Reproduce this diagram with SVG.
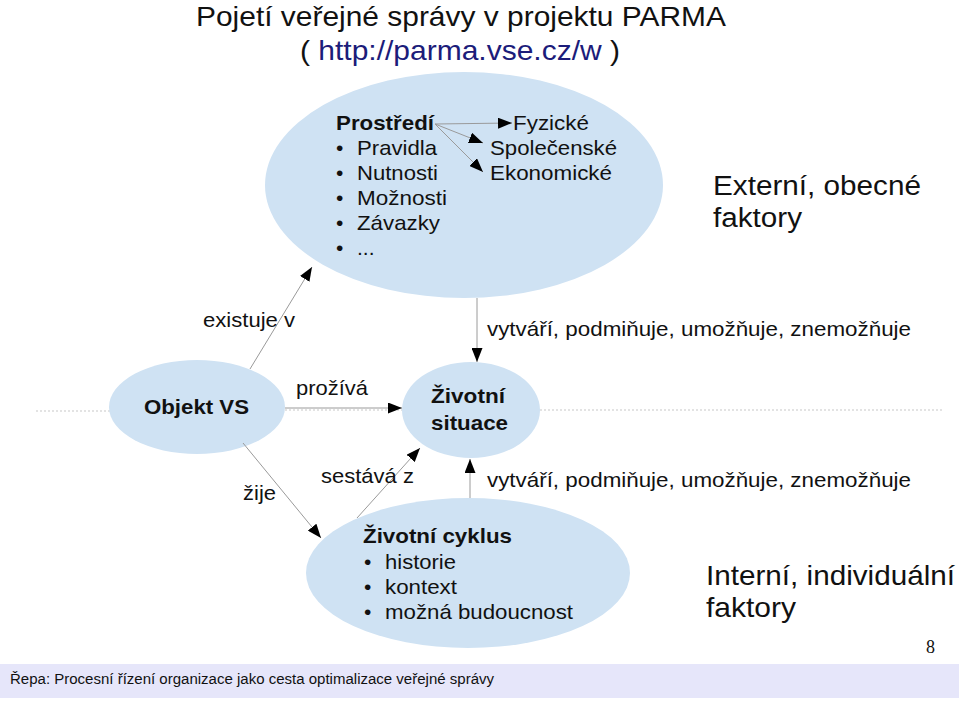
<svg xmlns="http://www.w3.org/2000/svg" width="959" height="702" viewBox="0 0 959 702">
<style>
text{font-family:"Liberation Sans",Arial,sans-serif;fill:#111}
.t{font-size:21px}
.b{font-size:21px;font-weight:bold}
.big{font-size:27px}
.el{fill:#cfe2f3}
.c{stroke:#9a9a9a;stroke-width:1;fill:none}
.d{stroke:#c8c8c8;stroke-width:1.2;stroke-dasharray:2,2;fill:none}
</style>
<defs>
<marker id="ah" markerUnits="userSpaceOnUse" markerWidth="15" markerHeight="11" refX="14" refY="5.5" orient="auto">
<path d="M0,0 L14,5.5 L0,11 z" fill="#000"/>
</marker>
</defs>
<rect width="959" height="702" fill="#fff"/>
<g id="title">
<text x="196" y="26" font-size="28" textLength="530" lengthAdjust="spacingAndGlyphs">Pojetí veřejné správy v projektu PARMA</text>
<text x="300" y="60" font-size="28" textLength="320" lengthAdjust="spacingAndGlyphs">( <tspan style="fill:#1c1c7a">http://parma.vse.cz/w</tspan> )</text>
</g>
<g id="guides">
<line class="d" x1="36" y1="411" x2="110" y2="411"/>
<line class="d" x1="285" y1="410" x2="402" y2="410"/>
<line class="d" x1="540" y1="410" x2="943" y2="410"/>
</g>
<g id="prostredi">
<ellipse class="el" cx="464" cy="185" rx="199" ry="113"/>
<text class="b" x="336" y="130" textLength="98" lengthAdjust="spacingAndGlyphs">Prostředí</text>
<text class="t" x="336" y="155">•</text><text class="t" x="357" y="155" textLength="80" lengthAdjust="spacingAndGlyphs">Pravidla</text>
<text class="t" x="336" y="180">•</text><text class="t" x="357" y="180" textLength="81" lengthAdjust="spacingAndGlyphs">Nutnosti</text>
<text class="t" x="336" y="205">•</text><text class="t" x="357" y="205" textLength="90" lengthAdjust="spacingAndGlyphs">Možnosti</text>
<text class="t" x="336" y="230">•</text><text class="t" x="357" y="230" textLength="83" lengthAdjust="spacingAndGlyphs">Závazky</text>
<text class="t" x="336" y="255">•</text><text class="t" x="357" y="255">...</text>
<text class="t" x="513" y="130" textLength="76" lengthAdjust="spacingAndGlyphs">Fyzické</text>
<text class="t" x="490" y="155" textLength="127" lengthAdjust="spacingAndGlyphs">Společenské</text>
<text class="t" x="490" y="180" textLength="122" lengthAdjust="spacingAndGlyphs">Ekonomické</text>
</g>
<g id="objekt">
<ellipse class="el" cx="197" cy="407" rx="88" ry="47"/>
<text class="b" x="144" y="414" textLength="105" lengthAdjust="spacingAndGlyphs">Objekt VS</text>
</g>
<g id="situace">
<ellipse class="el" cx="471" cy="410" rx="69" ry="48"/>
<text class="b" x="431" y="403" textLength="74" lengthAdjust="spacingAndGlyphs">Životní</text>
<text class="b" x="431" y="430" textLength="77" lengthAdjust="spacingAndGlyphs">situace</text>
</g>
<g id="cyklus">
<ellipse class="el" cx="468" cy="573" rx="162" ry="75"/>
<text class="b" x="363" y="543" textLength="149" lengthAdjust="spacingAndGlyphs">Životní cyklus</text>
<text class="t" x="364" y="569">•</text><text class="t" x="385" y="569" textLength="71" lengthAdjust="spacingAndGlyphs">historie</text>
<text class="t" x="364" y="594">•</text><text class="t" x="385" y="594" textLength="72" lengthAdjust="spacingAndGlyphs">kontext</text>
<text class="t" x="364" y="619">•</text><text class="t" x="385" y="619" textLength="188" lengthAdjust="spacingAndGlyphs">možná budoucnost</text>
</g>
<g id="connectors">
<line class="c" x1="435" y1="124" x2="512" y2="123" marker-end="url(#ah)"/>
<line class="c" x1="435" y1="124" x2="483" y2="143" marker-end="url(#ah)"/>
<line class="c" x1="435" y1="124" x2="483" y2="172" marker-end="url(#ah)"/>
<line class="c" x1="250" y1="369" x2="312" y2="267" marker-end="url(#ah)"/>
<line class="c" x1="285" y1="408" x2="402" y2="408" marker-end="url(#ah)"/>
<line class="c" x1="243" y1="443" x2="321" y2="538" marker-end="url(#ah)"/>
<line class="c" x1="357" y1="518" x2="420" y2="448" marker-end="url(#ah)"/>
<line class="c" x1="477" y1="298" x2="477" y2="362" marker-end="url(#ah)"/>
<line class="c" x1="470" y1="498" x2="470" y2="459" marker-end="url(#ah)"/>
</g>
<g id="labels">
<text class="t" x="203" y="327" textLength="92" lengthAdjust="spacingAndGlyphs">existuje v</text>
<text class="t" x="296" y="395" textLength="72" lengthAdjust="spacingAndGlyphs">prožívá</text>
<text class="t" x="243" y="500" textLength="33" lengthAdjust="spacingAndGlyphs">žije</text>
<text class="t" x="321" y="483" textLength="93" lengthAdjust="spacingAndGlyphs">sestává z</text>
<text class="t" x="487" y="336" textLength="424" lengthAdjust="spacingAndGlyphs">vytváří, podmiňuje, umožňuje, znemožňuje</text>
<text class="t" x="487" y="487" textLength="424" lengthAdjust="spacingAndGlyphs">vytváří, podmiňuje, umožňuje, znemožňuje</text>
<text class="big" x="713" y="195" textLength="208" lengthAdjust="spacingAndGlyphs">Externí, obecné</text>
<text class="big" x="713" y="227" textLength="89" lengthAdjust="spacingAndGlyphs">faktory</text>
<text x="706" y="585" font-size="28" textLength="249" lengthAdjust="spacingAndGlyphs">Interní, individuální</text>
<text x="706" y="617" font-size="28" textLength="90" lengthAdjust="spacingAndGlyphs">faktory</text>
</g>
<g id="footer">
<text x="926" y="653" font-size="18" style="font-family:'Liberation Serif',serif">8</text>
<rect x="0" y="664" width="959" height="34" fill="#e6e6fa"/>
<text x="10" y="684" font-size="14" textLength="484" lengthAdjust="spacingAndGlyphs">Řepa: Procesní řízení organizace jako cesta optimalizace veřejné správy</text>
</g>
</svg>
